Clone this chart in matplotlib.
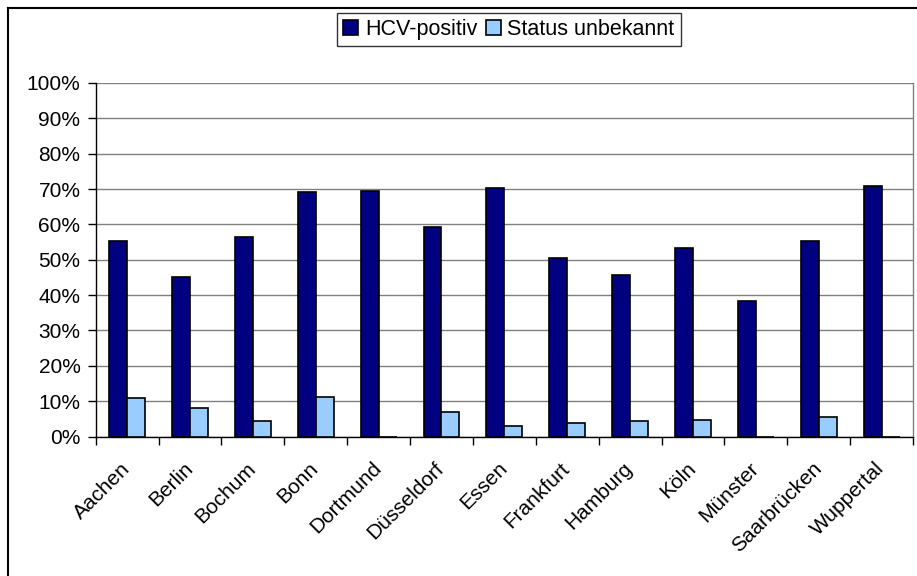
import matplotlib
matplotlib.use("Agg")
import matplotlib.pyplot as plt
from matplotlib.lines import Line2D
import matplotlib.transforms as mtransforms
import numpy as np

plt.rcParams['font.family'] = ['Liberation Sans', 'DejaVu Sans']

cities = ["Aachen", "Berlin", "Bochum", "Bonn", "Dortmund", "Düsseldorf", "Essen",
          "Frankfurt", "Hamburg", "Köln", "Münster", "Saarbrücken", "Wuppertal"]
hcv_positiv = [55.4, 45.2, 56.3, 69.3, 69.5, 59.2, 70.2, 50.5, 45.6, 53.3, 38.3, 55.4, 71.0]
status_unbekannt = [10.8, 8.0, 4.3, 11.3, 0.0, 6.8, 3.1, 3.9, 4.3, 4.8, 0.0, 5.5, 0.0]
series_names = ["HCV-positiv", "Status unbekannt"]
yticks = [0, 10, 20, 30, 40, 50, 60, 70, 80, 90, 100]

W, H = 917, 576
fig = plt.figure(figsize=(W / 100, H / 100), dpi=100)
ax = fig.add_axes([95.7 / W, (H - 436.5) / H, (913 - 95.7) / W, (436.5 - 83) / H])

n = len(cities)
x = np.arange(n) + 0.5
bw = 1 / 3.5
ax.bar(x - bw / 2, hcv_positiv, bw, color="#000080", edgecolor="black", linewidth=1.2,
       label=series_names[0], zorder=3)
ax.bar(x + bw / 2, status_unbekannt, bw, color="#99CCFF", edgecolor="black", linewidth=1.2,
       label=series_names[1], zorder=3)

ax.set_xlim(0, n)
ax.set_ylim(0, 100)
ax.set_yticks(yticks)
ax.set_yticklabels([f"{v}%" for v in yticks], fontsize=15)
ax.yaxis.grid(True, color="#808080", linewidth=1.0, zorder=0)
ax.set_axisbelow(True)

ax.set_xticks(np.arange(n + 1))
ax.set_xticklabels([])
ax.set_xticks(x, minor=True)
ax.set_xticklabels(cities, minor=True, rotation=45, ha="right", va="top",
                   rotation_mode="anchor", fontsize=15)
ax.tick_params(axis="x", which="minor", length=0, pad=16)
ax.tick_params(axis="x", which="major", length=6, width=1, direction="out")
ax.tick_params(axis="y", length=6, width=1, direction="out", pad=5)

offset = mtransforms.ScaledTranslation(-7 / 100, 0, fig.dpi_scale_trans)
for lab in ax.get_xticklabels(minor=True):
    lab.set_transform(lab.get_transform() + offset)

for s in ["left", "bottom"]:
    ax.spines[s].set_color("black")
    ax.spines[s].set_linewidth(1.0)
ax.spines["top"].set_visible(False)
ax.spines["right"].set_color("#808080")
ax.spines["right"].set_linewidth(1.0)

leg = fig.legend(loc="center", bbox_to_anchor=(509 / W, 1 - 29.5 / H), ncol=2,
                 fontsize=15.5, frameon=True, fancybox=False, edgecolor="black",
                 handlelength=0.7, handleheight=0.7, handletextpad=0.3,
                 columnspacing=0.4, borderpad=0.3, borderaxespad=0)
leg.get_frame().set_linewidth(1.0)

# outer chart border (left and top visible)
fig.add_artist(Line2D([7.5 / W, 7.5 / W], [0, 1 - 8.3 / H], color="black", linewidth=1.5,
                      transform=fig.transFigure))
fig.add_artist(Line2D([7.5 / W, 1], [1 - 8.3 / H, 1 - 8.3 / H], color="black", linewidth=1.5,
                      transform=fig.transFigure))

fig.savefig("out.png", dpi=100)
